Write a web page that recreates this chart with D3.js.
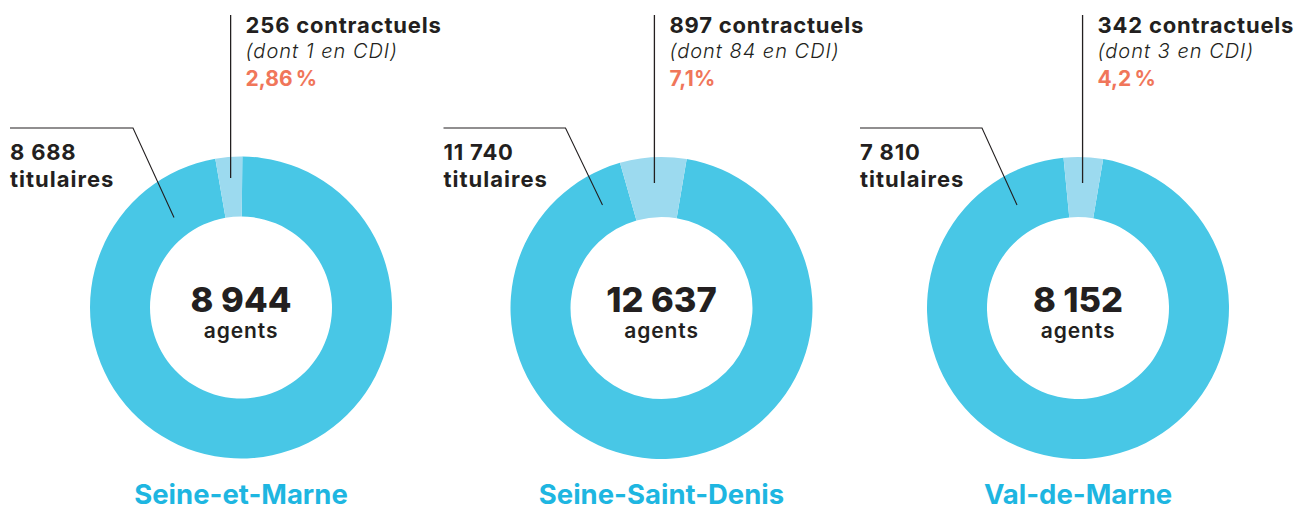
<!DOCTYPE html>
<html>
<head>
<meta charset="utf-8">
<script src="https://cdn.jsdelivr.net/npm/d3@7"></script>
<style>
  body { margin: 0; background: #fff; }
  svg text { font-family: Inter, "Noto Sans", sans-serif; fill: #231f20; }
</style>
</head>
<body>
<svg id="chart" width="1295" height="511"></svg>
<script>
// ──────────────────────
// Data
// ──────────────────────
const departements = ["Seine-et-Marne", "Seine-Saint-Denis", "Val-de-Marne"];
const titulaires = [8688, 11740, 7810];
const contractuels = [256, 897, 342];
const dontCDI = [1, 84, 3];
const totalAgents = [8944, 12637, 8152];
const partContractuels = ["2,86\u202F%", "7,1%", "4,2\u202F%"];

// ──────────────────────
// Layout
// ──────────────────────
const svg = d3.select("#chart");
const centers = [{ x: 241, y: 307.5 }, { x: 661.5, y: 308 }, { x: 1078, y: 308 }];
const sliceEndDeg = [0.5, 9.6, 9.6];       // where the contractuels slice ends (clockwise from top)
const labelLeft = [-231, -218, -218];      // titulaires label x, relative to center
const knee = [-108, -96, -96];
const leaderEnd = [[-67, -90], [-59, -103], [-61, -103]];
const outerR = 151, innerR = 91;

const fmt = d3.formatLocale({ thousands: "\u00a0", grouping: [3], decimal: ",", currency: ["", "€"] }).format(",d");

const colTit = "#48c7e6";
const colCon = "#9cdaef";

const arc = d3.arc().innerRadius(innerR).outerRadius(outerR);

departements.forEach((dep, i) => {
  const c = centers[i];
  const g = svg.append("g").attr("transform", `translate(${c.x},${c.y})`);

  const end = sliceEndDeg[i] * Math.PI / 180;
  const pie = d3.pie().sort(null).value(d => d.v)
    .startAngle(end).endAngle(end + 2 * Math.PI);

  const arcs = pie([
    { k: "tit", v: titulaires[i] },
    { k: "con", v: contractuels[i] }
  ]);

  g.selectAll("path")
    .data(arcs)
    .enter()
    .append("path")
    .attr("d", arc)
    .attr("fill", d => d.data.k === "tit" ? colTit : colCon);

  // contractuels pointer
  const conArc = arcs[1];
  const px = d3.arc().innerRadius(128).outerRadius(128).centroid(conArc)[0];
  const lineBottom = i === 0 ? -129.5 : -125;
  g.append("line")
    .attr("x1", px).attr("x2", px)
    .attr("y1", 15 - c.y).attr("y2", lineBottom)
    .attr("stroke", "#231f20").attr("stroke-width", 1.3);

  const tx = px + 15;
  g.append("text")
    .attr("x", tx).attr("y", 33 - c.y)
    .attr("font-size", 22).attr("font-weight", 700)
    .attr("letter-spacing", 0.8)
    .text(`${fmt(contractuels[i])} contractuels`);
  g.append("text")
    .attr("x", tx).attr("y", 58 - c.y)
    .attr("font-size", 20).attr("font-style", "italic").attr("font-weight", 300)
    .attr("letter-spacing", 1)
    .text(`(dont ${fmt(dontCDI[i])} en CDI)`);
  g.append("text")
    .attr("x", tx).attr("y", 86 - c.y)
    .attr("font-size", 21).attr("font-weight", 700)
    .attr("letter-spacing", 0.3)
    .style("fill", "#f0765a")
    .text(partContractuels[i]);

  // titulaires label + leader
  const lx = labelLeft[i];
  g.append("path")
    .attr("d", `M${lx},${128 - c.y}H${knee[i]}L${leaderEnd[i][0]},${leaderEnd[i][1]}`)
    .attr("fill", "none").attr("stroke", "#231f20").attr("stroke-width", 1.1);
  g.append("text")
    .attr("x", lx).attr("y", 160 - c.y)
    .attr("font-size", 22).attr("font-weight", 700)
    .attr("letter-spacing", 0.8)
    .text(fmt(titulaires[i]));
  g.append("text")
    .attr("x", lx).attr("y", 187 - c.y)
    .attr("font-size", 22).attr("font-weight", 700)
    .attr("letter-spacing", 1)
    .text("titulaires");

  // center total
  g.append("text")
    .attr("x", 0).attr("y", 4)
    .attr("text-anchor", "middle")
    .attr("font-size", 34.5).attr("font-weight", 800)
    .text(fmt(totalAgents[i]));
  g.append("text")
    .attr("x", 0).attr("y", 30)
    .attr("text-anchor", "middle")
    .attr("font-size", 21).attr("font-weight", 600)
    .attr("letter-spacing", 0.9)
    .text("agents");

  // department name
  g.append("text")
    .attr("x", 0).attr("y", 504 - c.y)
    .attr("text-anchor", "middle")
    .attr("font-size", 27.5).attr("font-weight", 700)
    .style("fill", "#1eb6e1")
    .text(dep);
});
</script>
</body>
</html>
